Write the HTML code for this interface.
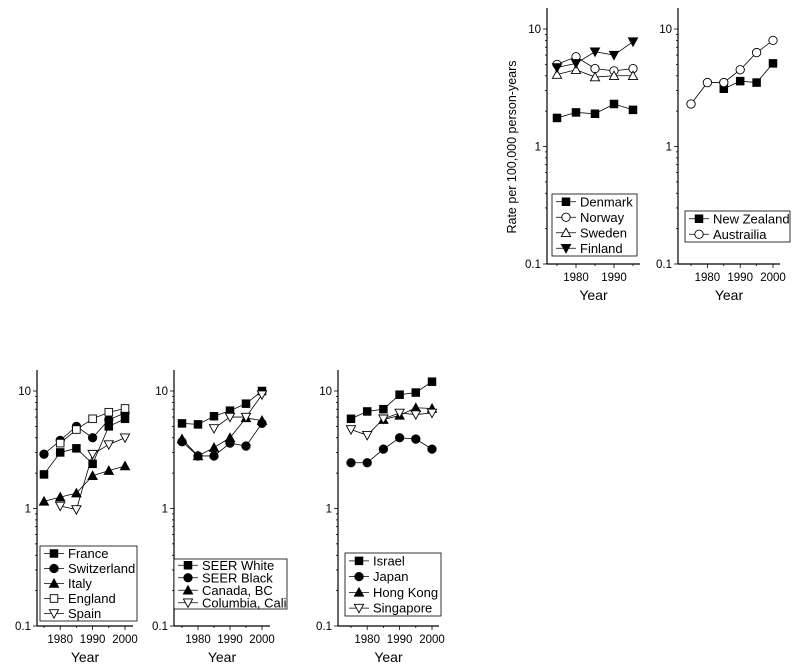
<!DOCTYPE html>
<html><head><meta charset="utf-8"><style>
body{margin:0;background:#fff;}
svg{display:block;font-family:"Liberation Sans",Arial,sans-serif;}
</style></head><body>
<svg id="c" width="800" height="671" viewBox="0 0 800 671" xmlns="http://www.w3.org/2000/svg"></svg>
<script>
const years = [1975,1980,1985,1990,1995,2000];
const xTickLabels = [1980,1990,2000];
const yTickLabels = ["0.1","1","10"];
// Panel A (Nordic)
const denmark = [1.75,1.95,1.9,2.3,2.05,null];
const norway = [5.0,5.8,4.6,4.4,4.6,null];
const sweden = [4.1,4.5,3.9,4.0,4.0,null];
const finland = [4.7,5.1,6.4,6.0,7.8,null];
// Panel B (Oceania)
const newZealand = [null,null,3.1,3.6,3.5,5.1];
const australia = [2.3,3.5,3.5,4.5,6.3,8.0];
// Panel C (Europe)
const france = [1.95,3.0,3.25,2.4,5.0,5.8];
const switzerland = [2.9,3.8,5.0,4.0,5.7,6.5];
const italy = [1.15,1.25,1.35,1.9,2.1,2.3];
const england = [null,3.6,4.7,5.8,6.6,7.1];
const spain = [null,1.05,0.98,2.9,3.5,4.0];
// Panel D (Americas)
const seerWhite = [5.3,5.2,6.1,6.8,7.8,10];
const seerBlack = [3.7,2.8,2.8,3.6,3.4,5.3];
const canadaBC = [3.9,2.8,3.3,4.0,5.9,5.6];
const columbia = [null,null,4.8,6.0,6.0,9.3];
// Panel E (Asia)
const israel = [5.8,6.7,7.0,9.3,9.7,12];
const japan = [2.45,2.45,3.2,4.0,3.9,3.2];
const hongKong = [null,null,5.7,6.2,7.2,7.1];
const singapore = [4.7,4.2,5.8,6.5,6.3,6.5];

const NS="http://www.w3.org/2000/svg";
const svg=document.getElementById('c');
function mk(tag,attrs,parent){const e=document.createElementNS(NS,tag);for(const k in attrs)e.setAttribute(k,attrs[k]);(parent||svg).appendChild(e);return e;}

function marker(g,type,x,y){
  const s=3.8;
  let e;
  if(type==='sq'||type==='osq') e=mk('rect',{x:x-s,y:y-s,width:2*s,height:2*s},g);
  else if(type==='ci'||type==='oci') e=mk('circle',{cx:x,cy:y,r:s+0.4},g);
  else if(type==='tu'||type==='otu') e=mk('polygon',{points:`${x},${y-s-0.8} ${x+s+0.8},${y+s} ${x-s-0.8},${y+s}`},g);
  else e=mk('polygon',{points:`${x},${y+s+0.8} ${x+s+0.8},${y-s} ${x-s-0.8},${y-s}`},g);
  const open=type[0]==='o';
  e.setAttribute('fill',open?'#fff':'#000');
  e.setAttribute('stroke','#000');e.setAttribute('stroke-width','0.9');
  
  
}

function panel(p){
  const g=mk('g',{});
  
  
  const dec=(p.y01-p.y10)/2;
  const ys=v=>p.y10+(1-Math.log10(v))*dec;
  const xs=yr=>p.x75+(yr-1975)*p.step/5;
  const ya=mk('line',{x1:p.ax,y1:p.top,x2:p.ax,y2:p.y01,stroke:'#000','stroke-width':1.2},g);
  
  const xa=mk('line',{x1:p.ax,y1:p.y01,x2:p.xend,y2:p.y01,stroke:'#000','stroke-width':1.2},g);
  
  for(let d=-1;d<=1;d++){
    for(let m=1;m<=9;m++){
      const v=m*Math.pow(10,d); const y=ys(v);
      if(y<p.top) continue;
      mk('line',{x1:p.ax,y1:y,x2:p.ax-(m===1?4:2),y2:y,stroke:'#000','stroke-width':0.8},g);
    }
  }
  const v10=[0.1,1,10];
  yTickLabels.forEach((t,i)=>{const e=mk('text',{x:p.ax-6,y:ys(v10[i])+4,'font-size':11.5,'text-anchor':'end'},g);e.textContent=t;
    });
  years.forEach(yr=>{if(yr>p.maxYear)return;mk('line',{x1:xs(yr),y1:p.y01,x2:xs(yr),y2:p.y01+(yr%10===0?4:2),stroke:'#000','stroke-width':0.8},g);});
  xTickLabels.forEach(yr=>{if(yr>p.maxYear)return;const e=mk('text',{x:xs(yr),y:p.y01+17,'font-size':11.5,'text-anchor':'middle'},g);e.textContent=yr;
    });
  const xt=mk('text',{x:(p.ax+p.xend)/2,y:p.y01+36,'font-size':14,'text-anchor':'middle'},g);xt.textContent='Year';
  
  p.series.forEach(s=>{
    const pts=[];s.data.forEach((v,i)=>{if(v!=null)pts.push([xs(years[i]),ys(v)]);});
    const pl=mk('polyline',{points:pts.map(q=>q.join(',')).join(' '),fill:'none',stroke:'#000','stroke-width':0.8},g);
    
    pts.forEach(q=>marker(g,s.m,q[0],q[1]));
  });
  const L=p.leg;
  const lb=mk('rect',{x:L.x,y:L.y,width:L.w,height:L.h,fill:'#fff',stroke:'#000','stroke-width':0.8},g);
  
  const rh=L.h/p.series.length;
  p.series.forEach((s,i)=>{
    const cy=L.y+rh*(i+0.5);
    mk('line',{x1:L.x+4,y1:cy,x2:L.x+24,y2:cy,stroke:'#000','stroke-width':0.8},g);
    marker(g,s.m,L.x+14,cy);
    const t=mk('text',{x:L.x+28,y:cy+4.5,'font-size':13},g);t.textContent=s.label;
    
  });
}

panel({name:'panel-nordic',ax:547,top:8,y10:29,y01:264,x75:557,step:19,xend:640,maxYear:1995,
  leg:{x:552,y:194,w:85,h:62},
  series:[{label:'Denmark',data:denmark,m:'sq'},{label:'Norway',data:norway,m:'oci'},{label:'Sweden',data:sweden,m:'otu'},{label:'Finland',data:finland,m:'td'}]});
panel({name:'panel-oceania',ax:678,top:8,y10:29,y01:264,x75:691,step:16.4,xend:780,maxYear:2000,
  leg:{x:685,y:211,w:105,h:31},
  series:[{label:'New Zealand',data:newZealand,m:'sq'},{label:'Austrailia',data:australia,m:'oci'}]});
panel({name:'panel-europe',ax:37,top:370,y10:391,y01:626,x75:44,step:16.2,xend:133,maxYear:2000,
  leg:{x:40,y:546,w:97,h:75},
  series:[{label:'France',data:france,m:'sq'},{label:'Switzerland',data:switzerland,m:'ci'},{label:'Italy',data:italy,m:'tu'},{label:'England',data:england,m:'osq'},{label:'Spain',data:spain,m:'otd'}]});
panel({name:'panel-americas',ax:174,top:370,y10:391,y01:626,x75:182,step:16,xend:270,maxYear:2000,
  leg:{x:174,y:559,w:113,h:50},
  series:[{label:'SEER White',data:seerWhite,m:'sq'},{label:'SEER Black',data:seerBlack,m:'ci'},{label:'Canada, BC',data:canadaBC,m:'tu'},{label:'Columbia, Cali',data:columbia,m:'otd'}]});
panel({name:'panel-asia',ax:338,top:370,y10:391,y01:626,x75:351,step:16.2,xend:439,maxYear:2000,
  leg:{x:345,y:553,w:96,h:63},
  series:[{label:'Israel',data:israel,m:'sq'},{label:'Japan',data:japan,m:'ci'},{label:'Hong Kong',data:hongKong,m:'tu'},{label:'Singapore',data:singapore,m:'otd'}]});

const yl=mk('text',{x:0,y:0,'font-size':12.5,'text-anchor':'middle',transform:'translate(516,147) rotate(-90)'});
yl.textContent='Rate per 100,000 person-years';


</script>
</body></html>
